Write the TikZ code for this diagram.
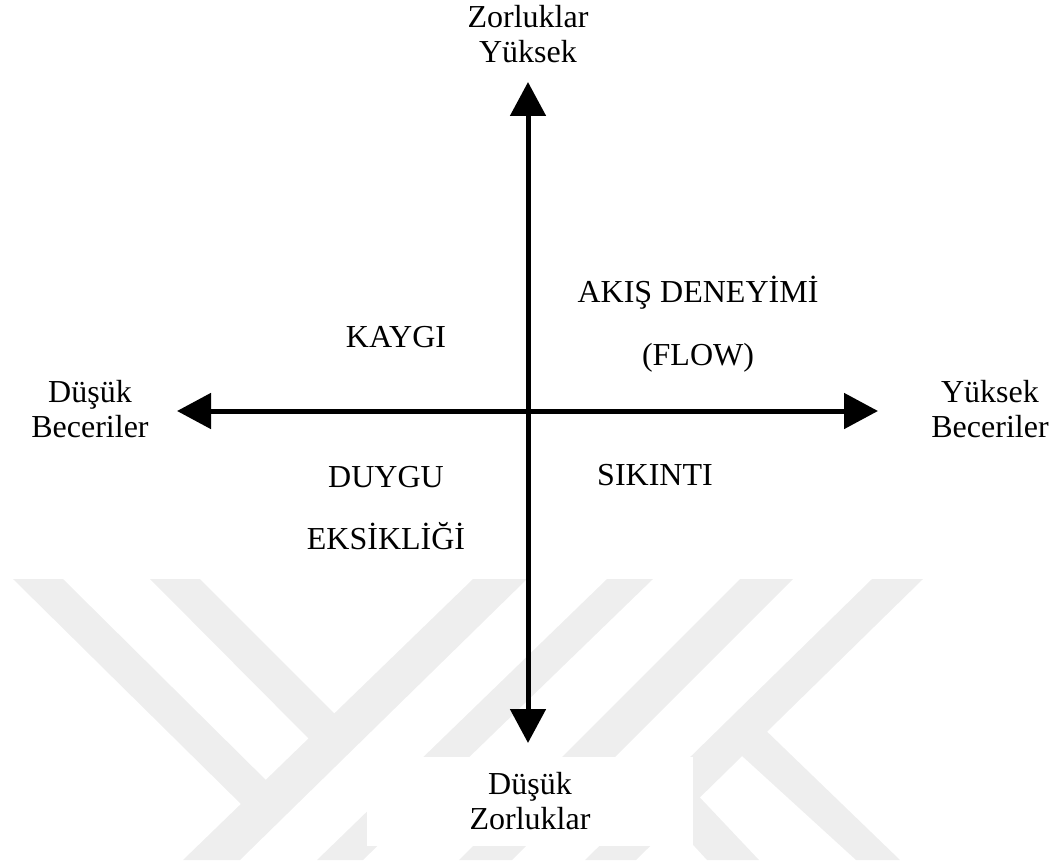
\documentclass[tikz,border=0pt]{standalone}
\usepackage{fontspec}
\setmainfont{Liberation Serif}
\usetikzlibrary{arrows.meta,positioning}
\definecolor{wmgray}{RGB}{238,238,238}

\begin{document}
\begin{tikzpicture}[x=0.5pt,y=-0.5pt,
  axis/.style={line width=2.5pt,{Triangle[length=17pt,width=17.5pt]}-{Triangle[length=17pt,width=17.5pt]}},
  lbl/.style={font=\fontsize{16}{17.5}\selectfont,align=center,inner sep=0pt},
  wmband/.style={fill=wmgray}]
\useasboundingbox (0,0) rectangle (1053,866);
% watermark
\fill[wmband] (13,579) -- (63,579) -- (280,794) -- (250,813) -- cycle;
\fill[wmband] (150,579) -- (200,579) -- (345,724) -- (318,748) -- cycle;
\fill[wmband] (473,579) -- (527,579) -- (240,860) -- (183,860) -- cycle;
\fill[wmband] (607,579) -- (653,579) -- (363,860) -- (317,860) -- cycle;
\fill[wmband] (740,579) -- (793,579) -- (512,860) -- (459,860) -- cycle;
\fill[wmband] (872,579) -- (923,579) -- (636,860) -- (585,860) -- cycle;
\fill[wmband] (755,720) -- (900,860) -- (856,860) -- (730,745) -- cycle;
\fill[wmband] (690,787) -- (759,860) -- (707,860) -- (672,822) -- cycle;
% axes
\coordinate (lt) at (177,411);
\coordinate (rt) at (878,411);
\coordinate (tp) at (528,82);
\coordinate (bt) at (528,743);
\draw[axis] (lt) -- (rt);
\draw[axis] (bt) -- (tp);
% axis labels
\node[lbl] (zy) at (528,34.5) {Zorluklar\\Yüksek};
\node[lbl,fill=white,minimum width=163pt,minimum height=44.5pt] (dz) at (530,801.5) {Düşük\\Zorluklar};
\node[lbl] (db) at (90,409.5) {Düşük\\Beceriler};
\node[lbl] (yb) at (990,409.5) {Yüksek\\Beceriler};
% quadrants
\node[lbl,anchor=base] (kaygi) at (396,347) {KAYGI};
\node[lbl,anchor=base] (akis) at (698,302) {AKIŞ DENEYİMİ};
\node[lbl,anchor=base] (flow) at (698,365) {(FLOW)};
\node[lbl,anchor=base] (duygu) at (386,487) {DUYGU};
\node[lbl,anchor=base] (eksik) at (386,549) {EKSİKLİĞİ};
\node[lbl,anchor=base] (sikinti) at (655,485) {SIKINTI};
\end{tikzpicture}
\end{document}
